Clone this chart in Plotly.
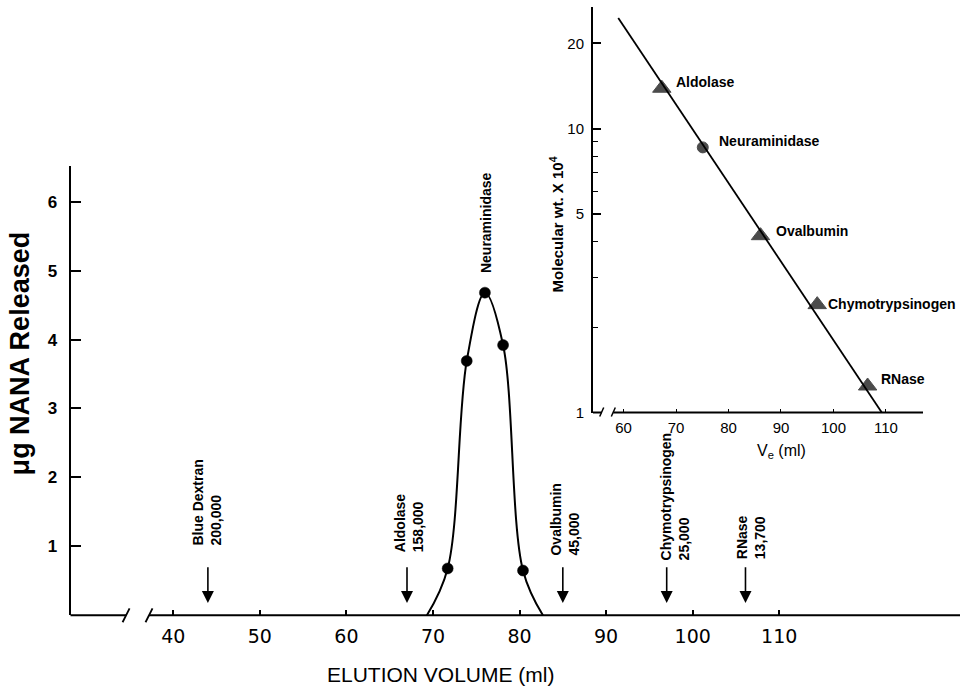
import math
import plotly.graph_objects as go

# ---------------- data ----------------
# main chart: neuraminidase activity across the elution profile
peak_ve = [71.7, 73.9, 76.0, 78.1, 80.4]
peak_nana = [0.68, 3.69, 4.68, 3.92, 0.65]
curve_ve = [69.3, 71.7, 73.9, 76.0, 78.1, 80.4, 82.7]
curve_nana = [0.0, 0.68, 3.69, 4.68, 3.92, 0.65, 0.0]

# calibration markers (arrows) on the main chart
marker_names = ["Blue Dextran", "Aldolase", "Ovalbumin", "Chymotrypsinogen", "RNase"]
marker_mw = ["200,000", "158,000", "45,000", "25,000", "13,700"]
marker_ve = [44.0, 67.0, 85.0, 97.0, 106.1]

# inset: calibration curve
std_names = ["Aldolase", "Neuraminidase", "Ovalbumin", "Chymotrypsinogen", "RNase"]
std_ve = [67.3, 75.1, 86.1, 96.9, 106.5]
std_mw = [13.9, 8.6, 4.2, 2.4, 1.24]
std_symbol = ["triangle-up", "circle", "triangle-up", "triangle-up", "triangle-up"]
fit_ve = [59.0, 109.2]
fit_mw = [24.6, 1.0]

# tick labels
main_x_ticks = [40, 50, 60, 70, 80, 90, 100, 110]
main_y_ticks = [1, 2, 3, 4, 5, 6]
inset_x_ticks = [60, 70, 80, 90, 100, 110]
inset_y_ticks = [1, 5, 10, 20]
inset_y_minor = [2, 3, 4, 6, 7, 8, 9]

# ---------------- layout / style ----------------
W, H = 960, 696
FONT = "Liberation Sans, Arial, sans-serif"
FONT_WIDE = "DejaVu Sans, Liberation Sans, sans-serif"
MAIN_X_RANGE = [28.13, 130.88]
MAIN_Y_RANGE = [0, 6.516]
MAIN_X_DOM = [70.5 / W, 1.0]
MAIN_Y_DOM = [(H - 622.5) / H, (H - 168) / H]
INSET_X_RANGE = [54.19, 117.05]
INSET_Y_RANGE = [0, 1.4286]  # log10
INSET_X_DOM = [593 / W, 923 / W]
INSET_Y_DOM = [(H - 417.3) / H, (H - 7.3) / H]

ARROW_TOP, ARROW_TIP = 0.72, 0.18
label_dx = [-1, 1.5, 2, 8, 5]
label_dy = [19, 12.5, 9, 4, 6]
inset_dx = [13, 15, 14, 10, 12]
inset_dy = [6, 6, 5, 1, 7]
MAIN_BREAK = (34.55, 37.2)
INSET_BREAK = (55.85, 58.06)

fig = go.Figure()

# main curve + points
fig.add_trace(go.Scatter(x=curve_ve, y=curve_nana, mode="lines",
                         line=dict(color="black", width=2, shape="spline", smoothing=1.0),
                         xaxis="x", yaxis="y", hoverinfo="skip"))
fig.add_trace(go.Scatter(x=peak_ve, y=peak_nana, mode="markers",
                         marker=dict(color="black", size=11, symbol="circle",
                                     line=dict(color="black", width=0.5)),
                         xaxis="x", yaxis="y"))

# inset fit line + standards
fig.add_trace(go.Scatter(x=fit_ve, y=fit_mw, mode="lines",
                         line=dict(color="black", width=1.8),
                         xaxis="x2", yaxis="y2", hoverinfo="skip"))
fig.add_trace(go.Scatter(x=std_ve, y=std_mw, mode="markers",
                         marker=dict(color="black",
                                     size=[16 if s != "circle" else 11 for s in std_symbol],
                                     symbol=std_symbol, line=dict(color="black", width=1)),
                         xaxis="x2", yaxis="y2"))

ann = []
# arrows for calibration markers
for v in marker_ve:
    ann.append(dict(x=v, y=ARROW_TIP, ax=v, ay=ARROW_TOP, xref="x", yref="y",
                    axref="x", ayref="y", showarrow=True, arrowhead=2, arrowsize=1.5,
                    arrowwidth=1.6, arrowcolor="black", text="", standoff=0))
for name, mw, v, dx, dy in zip(marker_names, marker_mw, marker_ve, label_dx, label_dy):
    ann.append(dict(x=v, y=ARROW_TOP, xref="x", yref="y", text=f"{name}<br>{mw}",
                    textangle=-90, showarrow=False, xanchor="center", yanchor="bottom",
                    align="left", xshift=dx, yshift=dy, borderpad=0,
                    font=dict(family=FONT, size=14, color="black", weight="bold")))
# peak label
ann.append(dict(x=peak_ve[2], y=peak_nana[2], xref="x", yref="y", text="Neuraminidase",
                textangle=-90, showarrow=False, xanchor="center", yanchor="bottom",
                xshift=1, yshift=19, borderpad=0,
                font=dict(family=FONT, size=14, color="black", weight="bold")))
# inset point labels (annotation y on a log axis is given in log10 units)
for name, v, m, dx, dy in zip(std_names, std_ve, std_mw, inset_dx, inset_dy):
    ann.append(dict(x=v, y=math.log10(m), xref="x2", yref="y2", text=name, showarrow=False,
                    xanchor="left", yanchor="middle", xshift=dx, yshift=dy, borderpad=0,
                    font=dict(family=FONT, size=14, color="black", weight="bold")))
# axis titles
ann.append(dict(x=20 / W, y=1 - 357.5 / H, xref="paper", yref="paper",
                text="\u03bcg NANA Released", textangle=-90, showarrow=False,
                xanchor="center", yanchor="middle",
                font=dict(family=FONT, size=27, color="black", weight="bold")))
ann.append(dict(x=440.5 / W, y=1 - 682 / H, xref="paper", yref="paper",
                text="ELUTION VOLUME (ml)", showarrow=False,
                xanchor="center", yanchor="middle",
                font=dict(family=FONT, size=21, color="black")))
ann.append(dict(x=556 / W, y=1 - 227 / H, xref="paper", yref="paper",
                text="Molecular wt. X 10<sup>4</sup>", textangle=-90, showarrow=False,
                xanchor="center", yanchor="middle",
                font=dict(family=FONT, size=15, color="black", weight="bold")))
ann.append(dict(x=781 / W, y=1 - 457 / H, xref="paper", yref="paper",
                text="V<sub>e</sub> (ml)", showarrow=False,
                xanchor="center", yanchor="middle",
                font=dict(family=FONT, size=16, color="black")))


def dom(v, rng):
    return (v - rng[0]) / (rng[1] - rng[0])


shapes = []
# main x-axis with break
mw_px = W * (MAIN_X_DOM[1] - MAIN_X_DOM[0])
mh_px = H * (MAIN_Y_DOM[1] - MAIN_Y_DOM[0])
b0, b1 = dom(MAIN_BREAK[0], MAIN_X_RANGE), dom(MAIN_BREAK[1], MAIN_X_RANGE)
line = dict(color="black", width=2)
shapes.append(dict(type="line", xref="x domain", yref="y domain", x0=0, x1=b0, y0=0, y1=0, line=line))
shapes.append(dict(type="line", xref="x domain", yref="y domain", x0=b1, x1=1, y0=0, y1=0, line=line))
for b in (b0, b1):
    shapes.append(dict(type="line", xref="x domain", yref="y domain",
                       x0=b - 3.5 / mw_px, x1=b + 3.5 / mw_px, y0=-7 / mh_px, y1=7 / mh_px,
                       line=dict(color="black", width=1.8)))
# inset x-axis with break
iw_px = W * (INSET_X_DOM[1] - INSET_X_DOM[0])
ih_px = H * (INSET_Y_DOM[1] - INSET_Y_DOM[0])
c0, c1 = dom(INSET_BREAK[0], INSET_X_RANGE), dom(INSET_BREAK[1], INSET_X_RANGE)
shapes.append(dict(type="line", xref="x2 domain", yref="y2 domain", x0=0, x1=c0, y0=0, y1=0, line=line))
shapes.append(dict(type="line", xref="x2 domain", yref="y2 domain", x0=c1, x1=1, y0=0, y1=0, line=line))
for c in (c0, c1):
    shapes.append(dict(type="line", xref="x2 domain", yref="y2 domain",
                       x0=c - 2 / iw_px, x1=c + 2 / iw_px, y0=-4 / ih_px, y1=5 / ih_px,
                       line=dict(color="black", width=1.5)))

fig.update_layout(
    width=W, height=H, margin=dict(l=0, r=0, t=0, b=0),
    paper_bgcolor="white", plot_bgcolor="rgba(0,0,0,0)",
    showlegend=False,
    xaxis=dict(domain=MAIN_X_DOM, range=MAIN_X_RANGE, showline=False, zeroline=False,
               showgrid=False, tickmode="array", tickvals=main_x_ticks,
               ticks="inside", ticklen=5, tickwidth=1.5, tickcolor="black",
               ticklabelstandoff=8,
               tickfont=dict(family=FONT_WIDE, size=19, color="black"), anchor="y"),
    yaxis=dict(domain=MAIN_Y_DOM, range=MAIN_Y_RANGE, showline=True, linewidth=2,
               linecolor="black", zeroline=False, showgrid=False, tickmode="array",
               tickvals=main_y_ticks, ticks="inside", ticklen=10, tickwidth=2,
               tickcolor="black", ticklabelstandoff=8,
               tickfont=dict(family=FONT, size=17, color="black", weight="bold"), anchor="x"),
    xaxis2=dict(domain=INSET_X_DOM, range=INSET_X_RANGE, showline=False, zeroline=False,
                showgrid=False, tickmode="array", tickvals=inset_x_ticks,
                ticks="inside", ticklen=4, tickwidth=1.2, tickcolor="black",
                ticklabelstandoff=4,
                tickfont=dict(family=FONT, size=15, color="black"), anchor="y2"),
    yaxis2=dict(domain=INSET_Y_DOM, type="log", range=INSET_Y_RANGE, showline=True,
                linewidth=2, linecolor="black", zeroline=False, showgrid=False,
                tickmode="array", tickvals=inset_y_ticks, ticktext=[str(t) for t in inset_y_ticks],
                ticks="inside", ticklen=8, tickwidth=1.5, tickcolor="black",
                ticklabelstandoff=4,
                minor=dict(tickmode="array", tickvals=inset_y_minor, ticks="inside",
                           ticklen=5, tickwidth=1.2, tickcolor="black", showgrid=False),
                tickfont=dict(family=FONT, size=15, color="black"), anchor="x2"),
    annotations=ann, shapes=shapes,
)

# pin the figure to the window origin (no page margin, no scroll area)
POST = ("document.documentElement.style.margin='0';"
        "document.body.style.margin='0';"
        "document.body.style.overflow='hidden';"
        "document.documentElement.style.overflow='hidden';"
        "var gd=document.getElementById('{plot_id}');"
        "gd.style.position='fixed';gd.style.left='0px';gd.style.top='0px';")
fig.write_html("out.html", post_script=POST, config={"displayModeBar": False})
